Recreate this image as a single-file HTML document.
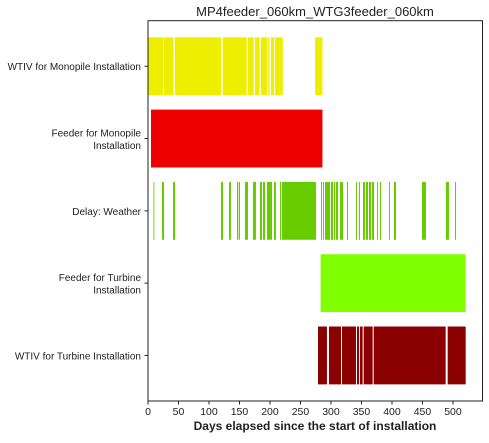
<!DOCTYPE html>
<html><head><meta charset="utf-8"><style>
body{margin:0;background:#fff;}
svg text{font-family:"Liberation Sans",Arial,sans-serif;fill:#222;}
</style></head><body>
<svg id="chart" width="489" height="438" xmlns="http://www.w3.org/2000/svg">
<text x="315" y="16" text-anchor="middle" font-size="13">MP4feeder_060km_WTG3feeder_060km</text>
<g id="marks"></g>
<g id="axes"></g>
<rect x="148" y="20.7" width="334.5" height="380.3" fill="none" stroke="#222" stroke-width="1"/>
<text x="315" y="430" text-anchor="middle" font-size="12" font-weight="bold">Days elapsed since the start of installation</text>
</svg>
<script>
const categories = [["WTIV for Monopile Installation"],["Feeder for Monopile","Installation"],["Delay: Weather"],["Feeder for Turbine","Installation"],["WTIV for Turbine Installation"]];
const colors = ["#eeee00","#ee0000","#66cc00","#7fff00","#8b0000"];
const wtivMono = [[0,24.6],[25.7,42],[44,119.7],[122.5,161.8],[164,173.4],[175.4,183],[185,195],[197,199.2],[201.6,206.6],[208,221],[274,286]];
const feederMono = [[4.9,286]];
const weather = [[9,10.4],[22.9,26.2],[41,44.3],[119.7,123],[132.8,136],[145.9,148.1],[149.2,150.8],[159,163.9],[172.1,177],[183.6,186.9],[188.5,191.8],[195.1,203.3],[206.6,209.8],[216.4,218],[219.7,275.4],[283.6,285.2],[286.9,288.5],[290.2,298.4],[300,303.3],[304.9,306.6],[308.2,311.5],[314.8,319.7],[326.2,327.9],[341,342.6],[345.9,347.5],[352.5,355.7],[357.4,360.7],[362.3,365.6],[367.2,370.5],[375.4,377],[380.3,382],[395.1,396.7],[403.3,406.6],[449.2,455.7],[488.5,493.4],[503.3,505]];
const feederTurb = [[283,520.8]];
const wtivTurb = [[278.7,293.4],[296.7,316.4],[318,341],[342.6,345.9],[347.5,351.9],[353.6,368.3],[370,488],[491.3,520.8]];
const xTicks = [0,50,100,150,200,250,300,350,400,450,500];
const series = [wtivMono, feederMono, weather, feederTurb, wtivTurb];
const seriesNames = ["wtiv-monopile","feeder-monopile","weather-delay","feeder-turbine","wtiv-turbine"];

const X0=148, X1=482.5, Y0=20.7, Y1=401;
const xMin=0, xMax=548.4, yMin=-0.63, yMax=4.63;
const xs = d => X0 + (d-xMin)/(xMax-xMin)*(X1-X0);
const ys = c => Y0 + (c-yMin)/(yMax-yMin)*(Y1-Y0);
const NS="http://www.w3.org/2000/svg";
const marks=document.getElementById('marks'), axes=document.getElementById('axes');
series.forEach((segs,i)=>{
  const h = ys(0.4)-ys(-0.4);
  segs.forEach(s=>{
    const r=document.createElementNS(NS,'rect');
    r.setAttribute('x',xs(s[0])); r.setAttribute('width',Math.max(0.5,xs(s[1])-xs(s[0])));
    r.setAttribute('y',ys(i)-h/2); r.setAttribute('height',h); r.setAttribute('fill',colors[i]);
    
    
    marks.appendChild(r);
  });
  const t=document.createElementNS(NS,'text');
  t.setAttribute('text-anchor','end'); t.setAttribute('font-size','10');
  const lines=categories[i];
  lines.forEach((ln,k)=>{
    const sp=document.createElementNS(NS,'tspan');
    sp.setAttribute('x',141);
    sp.setAttribute('y', ys(i)+4 + (k-(lines.length-1)/2)*12.5);
    sp.textContent=ln; t.appendChild(sp);
  });
  
  
  axes.appendChild(t);
  const tk=document.createElementNS(NS,'line');
  tk.setAttribute('x1',144.5);tk.setAttribute('x2',148);tk.setAttribute('y1',ys(i));tk.setAttribute('y2',ys(i));tk.setAttribute('stroke','#222');
  
  
  axes.appendChild(tk);
});
xTicks.forEach(v=>{
  const tk=document.createElementNS(NS,'line');
  tk.setAttribute('x1',xs(v));tk.setAttribute('x2',xs(v));tk.setAttribute('y1',Y1);tk.setAttribute('y2',Y1+3.5);tk.setAttribute('stroke','#222');
  
  
  axes.appendChild(tk);
  const t=document.createElementNS(NS,'text');
  t.setAttribute('x',xs(v));t.setAttribute('y',Y1+14);t.setAttribute('text-anchor','middle');t.setAttribute('font-size','10.5');
  t.textContent=v;
  
  
  axes.appendChild(t);
});
</script>
</body></html>
